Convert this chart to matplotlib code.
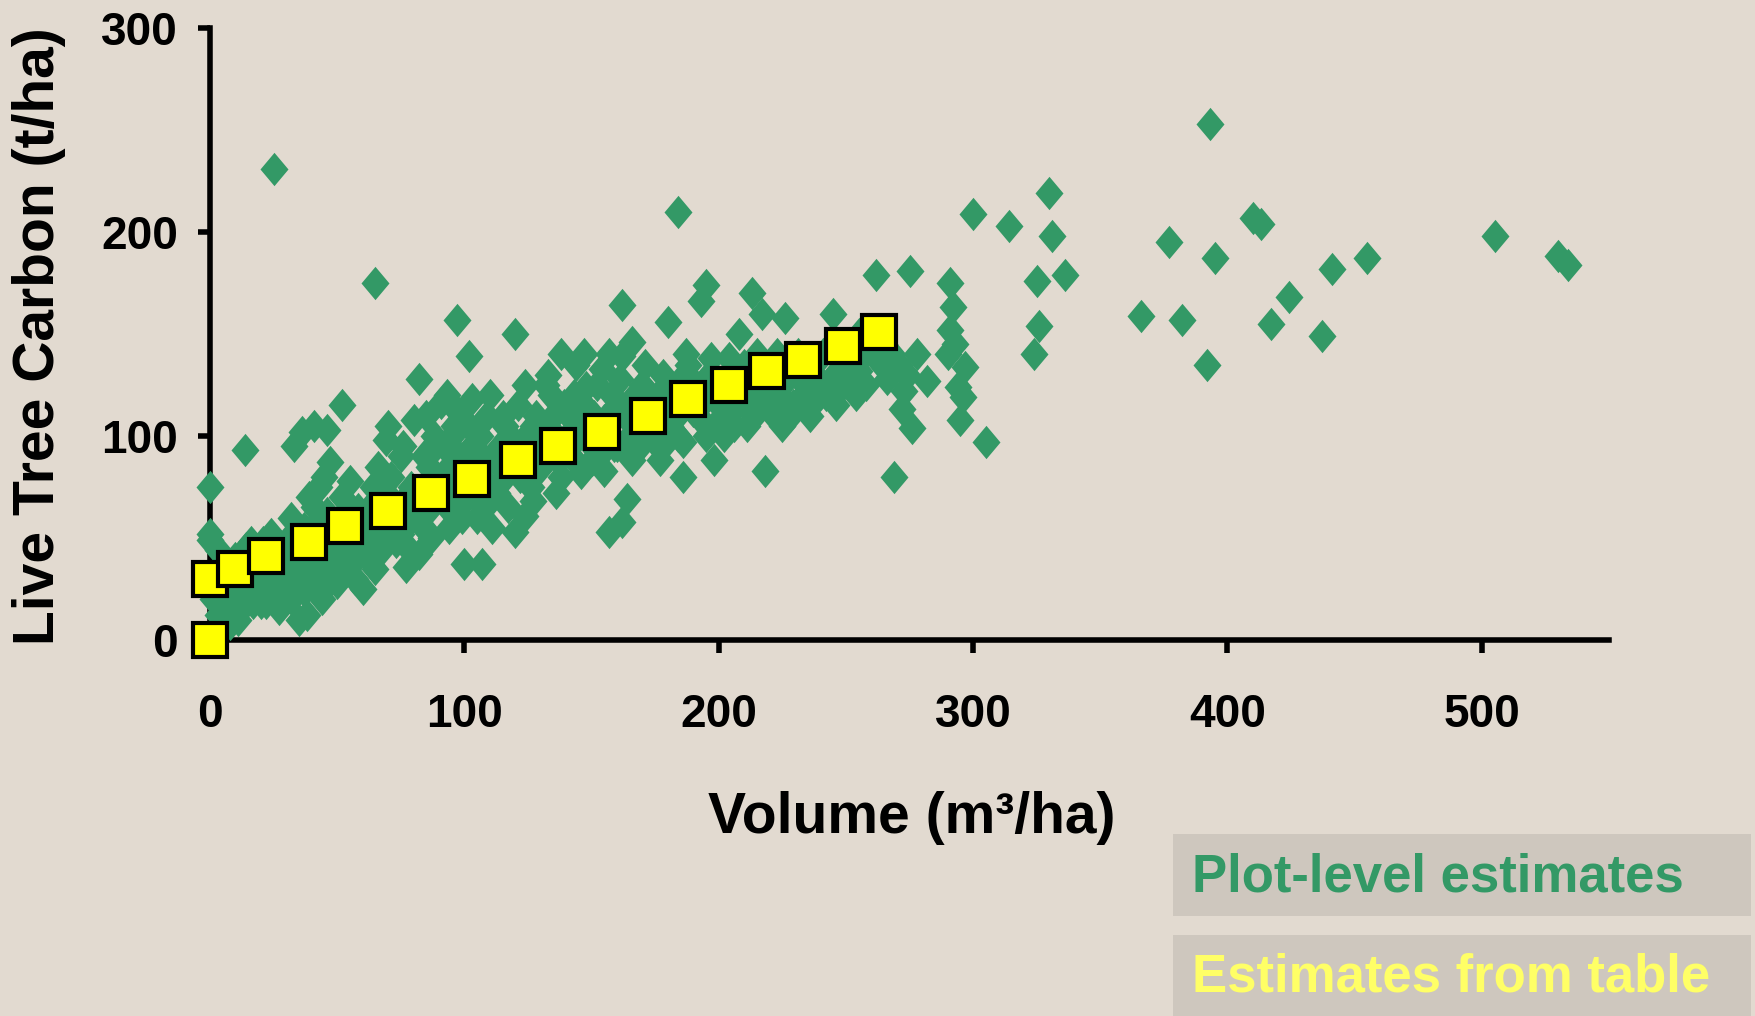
import matplotlib
matplotlib.use("Agg")
import matplotlib.pyplot as plt
from matplotlib.patches import Rectangle

# ---- data: plot-level estimates (volume m3/ha, live tree carbon t/ha) ----
plot_vol = [
    0, 2, 4, 5, 3, 6, 8, 10, 7, 9, 1, 0, 2, 5, 8, 10, 0, 0, 0, 3, 6, 10, 8,
    12, 14, 16, 13, 15, 18, 20, 17, 19, 14, 18, 11, 13.7, 16, 20, 12,
    22, 24, 25, 27, 28, 23, 26, 29, 21, 25, 24, 28, 30, 30, 27,
    32, 34, 36, 33, 35, 38, 31, 37, 39, 33, 36, 40, 38, 35, 32, 39, 37,
    41, 42, 44, 46, 45, 43, 47, 48, 49, 42, 46, 44, 48, 41, 49, 45, 43,
    52, 51, 53, 55, 57, 54, 56, 58, 59, 50, 60, 52, 55, 58, 57,
    62, 64, 65, 66, 68, 63, 67, 69, 70, 61, 65, 68, 70, 64, 66,
    72, 74, 76, 73, 77, 78, 79, 75, 71, 80, 78, 75, 72, 80, 76,
    82, 81, 83, 85, 87, 84, 86, 88, 89, 82, 85, 88, 84, 87, 90,
    91, 93, 92, 94, 96, 95, 97, 98, 99, 93, 96, 97, 92, 99, 100, 94,
    102, 101, 103, 105, 107, 104, 106, 100, 107, 108, 109, 103, 105, 102, 108,
    111, 112, 114, 116, 118, 113, 115, 117, 119, 110, 120, 120, 118, 116,
    124, 122, 123, 125, 127, 126, 128, 121, 129, 124, 127, 130, 122,
    131, 133, 135, 137, 134, 136, 138, 132, 139, 140, 133, 138, 136,
    141, 143, 145, 147, 148, 142, 146, 149, 144, 150, 143, 147,
    154, 151, 153, 155, 157, 158, 156, 152, 159, 160, 157, 153,
    162, 162, 164, 162, 166, 163, 165, 167, 169, 161, 168, 166,
    175, 177, 172, 174, 176, 178, 171, 173, 179, 180, 178, 170,
    184, 186, 186, 182, 183, 185, 188, 189, 181, 187, 184, 190,
    193, 195, 192, 194, 196, 198, 197, 199, 191, 200, 195,
    208, 201, 203, 205, 207, 202, 209, 204, 206, 210,
    213, 217, 218, 212, 214, 216, 219, 211, 215, 220,
    226, 222, 224, 227, 229, 223, 228, 225,
    232, 234, 236, 238, 231, 239, 235,
    242, 244, 246, 248, 241, 249, 245,
    252, 254, 256, 258, 251, 255,
    262, 262, 264, 266, 268, 269, 265, 261,
    272, 275, 276, 271, 274, 278, 273,
    282, 291, 292, 291, 294, 296, 297, 295, 290, 293,
    300, 305, 314, 324, 325, 326, 330, 331, 336,
    366, 377, 382, 392, 393, 395, 410, 413, 417, 424, 437, 441, 455, 505, 530, 534,
    # extra points filling the dense band
    15, 25, 35, 45, 55, 65, 75, 85, 95, 105, 115, 125, 135, 145, 155, 165,
    175, 185, 195, 205, 215, 225, 235, 245, 255, 20, 40, 60, 80, 100, 120,
    140, 160, 180, 200, 220, 240, 110, 130, 150, 170, 190, 210,
]
plot_carbon = [
    0, 3, 6, 10, 12, 15, 8, 12, 18, 20, 20, 28, 25, 30, 28, 24, 52, 49, 75, 44, 38, 40, 35,
    15, 20, 25, 30, 35, 28, 22, 18, 33, 45, 40, 10, 93, 48, 45, 38,
    18, 25, 30, 22, 35, 38, 42, 28, 48, 231, 52, 45, 30, 40, 15,
    20, 28, 32, 38, 45, 40, 50, 55, 30, 95, 102, 48, 12, 10, 60, 70, 24,
    105, 35, 42, 103, 50, 28, 87, 38, 45, 58, 62, 20, 30, 65, 55, 80, 75,
    115, 40, 48, 52, 45, 35, 60, 64, 42, 28, 25, 70, 78, 55, 30,
    40, 50, 175, 58, 45, 65, 72, 98, 105, 55, 35, 62, 50, 75, 85,
    55, 62, 68, 48, 36, 58, 75, 90, 80, 108, 45, 52, 68, 65, 95,
    128, 60, 70, 75, 65, 55, 85, 80, 95, 42, 110, 100, 90, 50, 72,
    116, 120, 78, 85, 70, 100, 157, 90, 60, 65, 105, 112, 95, 80, 75, 55,
    139, 85, 95, 80, 90, 70, 100, 37, 37, 65, 110, 118, 60, 105, 78,
    55, 88, 95, 80, 100, 72, 110, 65, 85, 120, 150, 53, 92, 105,
    61, 90, 98, 85, 105, 75, 110, 115, 95, 125, 68, 100, 80,
    105, 95, 110, 88, 120, 100, 80, 125, 115, 95, 130, 140, 72,
    110, 104, 100, 115, 124, 90, 82, 105, 135, 95, 120, 140,
    133, 110, 100, 83, 53, 120, 105, 125, 95, 115, 140, 90,
    139, 164, 69, 58, 146, 110, 100, 120, 95, 128, 108, 88,
    97, 88, 115, 108, 120, 130, 135, 102, 112, 156, 95, 125,
    210, 80, 97, 120, 110, 128, 135, 115, 105, 140, 100, 125,
    166, 174, 110, 120, 130, 88, 138, 105, 125, 115, 100,
    150, 120, 110, 130, 115, 100, 125, 138, 105, 135,
    170, 160, 83, 120, 110, 130, 115, 105, 140, 125,
    158, 112, 120, 130, 115, 140, 110, 105,
    118, 125, 110, 130, 140, 120, 115,
    120, 128, 115, 132, 140, 125, 160,
    130, 120, 138, 125, 145, 150,
    179, 140, 135, 128, 140, 80, 145, 150,
    113, 181, 104, 135, 130, 140, 122,
    127, 175, 163, 152, 124, 119, 134, 108, 140, 145,
    209, 97, 203, 140, 176, 154, 219, 198, 179,
    159, 195, 157, 135, 253, 187, 207, 204, 155, 168, 149, 182, 187, 198, 188, 184,
    22, 26, 33, 40, 46, 52, 60, 66, 72, 78, 84, 90, 96, 102, 108, 112,
    108, 112, 118, 122, 120, 125, 125, 128, 132, 18, 35, 48, 62, 68, 85,
    98, 95, 105, 108, 112, 120, 75, 85, 88, 100, 112, 118,
]

# ---- data: estimates from table ----
table_vol = [0, 0, 10, 22, 39, 53, 70, 87, 103, 121, 137, 154, 172, 188, 204, 219, 233, 249, 263]
table_carbon = [0, 30, 35, 41, 48, 56, 63, 72, 79, 88, 95, 102, 110, 118, 125, 132, 137, 144, 151]

BG = '#E2DAD0'
GREEN = '#339966'
plt.rcParams['font.family'] = ['Liberation Sans', 'DejaVu Sans']
plt.rcParams['font.weight'] = 'bold'

fig = plt.figure(figsize=(17.56, 10.16), dpi=100, facecolor=BG)
ax = fig.add_axes([0.1196, 0.3701, 0.7967, 0.6024])
ax.set_facecolor(BG)

diamond = [(0, 1), (0.84, 0), (0, -1), (-0.84, 0), (0, 1)]
ax.plot(plot_vol, plot_carbon, linestyle='none', marker=diamond, ms=24,
        mfc=GREEN, mec=GREEN, mew=0, clip_on=False, zorder=3)
ax.plot(table_vol, table_carbon, linestyle='none', marker='s', ms=24,
        mfc='#FFFF00', mec='black', mew=3, clip_on=False, zorder=4)

ax.set_xlim(0, 550)
ax.set_ylim(0, 300)
ax.set_xticks([0, 100, 200, 300, 400, 500])
ax.set_yticks([0, 100, 200, 300])
for s in ['top', 'right']:
    ax.spines[s].set_visible(False)
for s in ['left', 'bottom']:
    ax.spines[s].set_linewidth(4)
ax.tick_params(axis='both', direction='out', length=9, width=4, labelsize=33)
ax.tick_params(axis='x', pad=29)
ax.tick_params(axis='y', pad=14)
for lbl in ax.get_xticklabels() + ax.get_yticklabels():
    lbl.set_fontweight('bold')

fig.text(39 / 1756, 1 - 336 / 1016, 'Live Tree Carbon (t/ha)', rotation=90,
         ha='center', va='center', fontsize=41, fontweight='bold')
fig.text(912 / 1756, 1 - 818 / 1016, 'Volume (m³/ha)',
         ha='center', va='center', fontsize=41, fontweight='bold')

# legend boxes
fig.patches.append(Rectangle((1173 / 1756, 1 - 916 / 1016), 578 / 1756, 82 / 1016,
                             transform=fig.transFigure, facecolor='#CEC7BE', edgecolor='none'))
fig.patches.append(Rectangle((1173 / 1756, 0), 578 / 1756, 81 / 1016,
                             transform=fig.transFigure, facecolor='#CEC7BE', edgecolor='none'))
fig.text(1192 / 1756, 1 - 877 / 1016, 'Plot-level estimates', ha='left', va='center',
         fontsize=38, fontweight='bold', color=GREEN)
fig.text(1192 / 1756, 1 - 977 / 1016, 'Estimates from table', ha='left', va='center',
         fontsize=38, fontweight='bold', color='#FFFF66')

fig.savefig('out.png', dpi=100, facecolor=BG)
